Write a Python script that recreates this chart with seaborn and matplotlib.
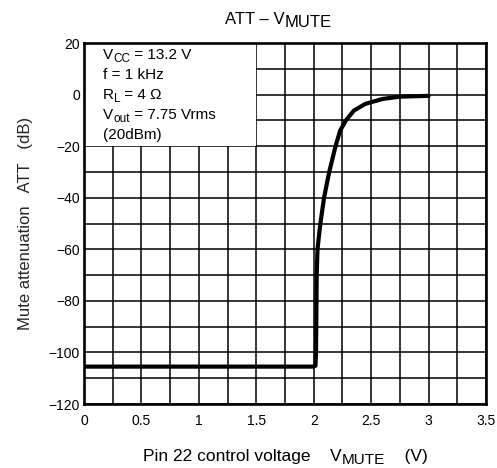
import matplotlib
matplotlib.use("Agg")
import matplotlib.pyplot as plt
import seaborn as sns
import pandas as pd
from matplotlib.patches import Rectangle
from matplotlib.ticker import MultipleLocator

# curve
v_mute = [0.0, 1.0, 2.0, 2.015, 2.02, 2.022, 2.026, 2.033, 2.045, 2.058, 2.09, 2.135,
          2.19, 2.23, 2.28, 2.35, 2.45, 2.6, 2.75, 3.0]
att_db = [-105.5, -105.5, -105.5, -105.2, -100.0, -90.0, -70.0, -60.0, -55.0, -50.0,
          -40.0, -30.0, -20.0, -14.0, -10.0, -6.2, -3.6, -1.7, -0.8, -0.5]

x_ticks = [0, 0.5, 1, 1.5, 2, 2.5, 3, 3.5]
x_labels = ['0', '0.5', '1', '1.5', '2', '2.5', '3', '3.5']
y_ticks = [20, 0, -20, -40, -60, -80, -100, -120]
y_labels = ['20', '0', '\u221220', '\u221240', '\u221260', '\u221280', '\u2212100', '\u2212120']

# (text, is_subscript) pieces
title_parts = [('ATT \u2013 V', False), ('MUTE', True)]
xlabel_parts = [('Pin 22 control voltage    V', False), ('MUTE', True), ('    (V)', False)]
cond_lines = [[('V', False), ('CC', True), (' = 13.2 V', False)],
              [('f = 1 kHz', False)],
              [('R', False), ('L', True), (' = 4 \u03a9', False)],
              [('V', False), ('out', True), (' = 7.75 Vrms', False)],
              [('(20dBm)', False)]]

sns.set_theme(style="white")
plt.rcParams['font.family'] = ['Liberation Sans', 'DejaVu Sans']

W, H = 497, 468
fig = plt.figure(figsize=(W / 100, H / 100), dpi=100)
ax = fig.add_axes([84 / W, 1 - 404 / H, 402 / W, 361 / H])


def rich_text(px, py, parts, size, sub_size, drop):
    """left aligned text at pixel (px, py from top), subscripts lowered by drop points"""
    prev = fig.text(px / W, 1 - py / H, parts[0][0], fontsize=size, va='baseline',
                    ha='left', color='black', zorder=10)
    prev_sub = parts[0][1]
    for txt, sub in parts[1:]:
        dy = 0
        if sub and not prev_sub:
            dy = -drop
        elif prev_sub and not sub:
            dy = drop
        prev = fig.add_artist(plt.Annotation(
            txt, xy=(1, 0), xycoords=prev, xytext=(0, dy), textcoords='offset points',
            fontsize=sub_size if sub else size, va='bottom', ha='left', color='black',
            zorder=10))
        prev_sub = sub


df = pd.DataFrame({'v': v_mute, 'att': att_db})
sns.lineplot(data=df, x='v', y='att', sort=False, color='black', linewidth=3.0, ax=ax, zorder=5)

ax.set_xlim(0, 3.5)
ax.set_ylim(-120, 20)
ax.set_xticks(x_ticks)
ax.set_xticklabels(x_labels)
ax.set_yticks(y_ticks)
ax.set_yticklabels(y_labels)
ax.xaxis.set_minor_locator(MultipleLocator(0.25))
ax.yaxis.set_minor_locator(MultipleLocator(10))
ax.grid(which='both', color='black', linewidth=1.1)
ax.set_axisbelow(True)
ax.tick_params(which='both', length=0, labelsize=10, colors='black')
ax.tick_params(axis='x', pad=7)
ax.tick_params(axis='y', pad=3)
for s in ax.spines.values():
    s.set_color('black')
    s.set_linewidth(1.9)
    s.set_zorder(6)
ax.set_xlabel('')
ax.set_ylabel('Mute attenuation   ATT   (dB)', fontsize=12, labelpad=11)

# condition box covers the grid
ax.add_patch(Rectangle((0, -20), 1.5, 40, facecolor='white', edgecolor='none', zorder=3))
for i, line in enumerate(cond_lines):
    rich_text(103, 59.3 + i * 19.8, line, 11, 8.5, 2.2)

rich_text(225, 24, title_parts, 12, 12, 2.5)
rich_text(143, 461, xlabel_parts, 12.5, 11, 2.5)

fig.savefig('out.png', dpi=100)
